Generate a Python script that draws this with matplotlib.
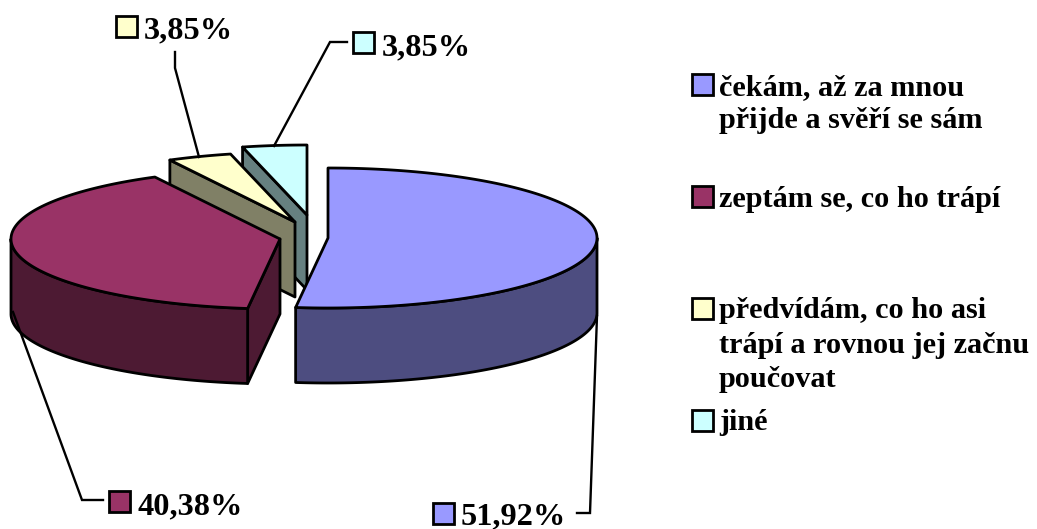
#!/usr/bin/env python
# 3D looking exploded pie chart, drawn on a pixel sized axes
import numpy as np
import matplotlib
matplotlib.use("Agg")
import matplotlib.pyplot as plt
from matplotlib.patches import Polygon

values=[51.92,40.38,3.85,3.85]
names=["čekám, až za mnou\npřijde a svěří se sám","zeptám se, co ho trápí",
       "předvídám, co ho asi\ntrápí a rovnou jej začnu\npoučovat","jiné"]
tops=["#9999FF","#993366","#FFFFCC","#CCFFFF"]
sides=["#4D4D80","#4D1A33","#808066","#668080"]

# layout in pixels
centers=[(328,238),(280,239),(295,222),(307,215)]
rx,ry,depth=269.,70.,75.
lw=2.0

plt.rcParams['font.family']=['Liberation Serif','DejaVu Serif']
plt.rcParams['font.weight']='bold'

fig=plt.figure(figsize=(10.37,5.29),dpi=100)
ax=fig.add_axes([0,0,1,1])
ax.set_xlim(0,1037)
ax.set_ylim(529,0)
ax.axis('off')

def rim(c,t1,t2,dy=0.):
  # points on the rim, angle clockwise from 12 o'clock
  t=np.radians(np.linspace(t1,t2,max(int(abs(t2-t1))*2,2)))
  return np.column_stack((c[0]+rx*np.sin(t),c[1]-ry*np.cos(t)+dy))

def face(pts,col,z):
  ax.add_patch(Polygon(pts,closed=True,fc=col,ec='k',lw=lw,joinstyle='round',zorder=z))

ends=np.cumsum(values)/np.sum(values)*360.
starts=np.concatenate(([0.],ends[:-1]))

# back slices first, so the front ones cover them
for i in [3,2,1,0]:
  c,t1,t2=centers[i],starts[i],ends[i]
  z=2+(3-i)*2
  if i>=1:
    # cut face on the start side of the slice
    p=rim(c,t1,t1)[0]
    face([p,c,(c[0],c[1]+depth),(p[0],p[1]+depth)],sides[i],z)
  # curved wall, only the part facing us
  a,b=max(t1,90.),min(t2,270.)
  if a<b:
    face(np.vstack((rim(c,a,b),rim(c,b,a,depth))),sides[i],z)
  face(np.vstack(([c],rim(c,t1,t2))),tops[i],z+1)

# leader lines
lead_x=[[597,590,577],[13,82,103],[199,175,175],[274,330,347]]
lead_y=[[316,513,513],[312,500,500],[157,68,52],[146,42,42]]
for lx,ly in zip(lead_x,lead_y):
  ax.plot(lx,ly,color='k',lw=1.7,zorder=12,solid_joinstyle='miter')

def key(x,y,col):
  ax.add_patch(Polygon([(x,y),(x+21,y),(x+21,y+21),(x,y+21)],closed=True,fc=col,ec='k',lw=lw,zorder=13))

# percent labels with their keys
key_x=[433,109,116,353]
key_y=[503,491,16,32]
lab_x=[461,137,144,382]
lab_y=[524,514,38,55]
for i,v in enumerate(values):
  key(key_x[i],key_y[i],tops[i])
  ax.text(lab_x[i],lab_y[i],("%.2f%%"%v).replace('.',','),fontsize=23.3,va='baseline',ha='left',zorder=13)

# legend
leg_y=[74,186,298,410]
leg_base=[[95,128],[207],[318,353,387],[430]]
for i,nm in enumerate(names):
  key(692,leg_y[i],tops[i])
  for ln,by in zip(nm.split("\n"),leg_base[i]):
    ax.text(719,by,ln,fontsize=21.8,va='baseline',ha='left')

fig.savefig("out.png",dpi=100)
